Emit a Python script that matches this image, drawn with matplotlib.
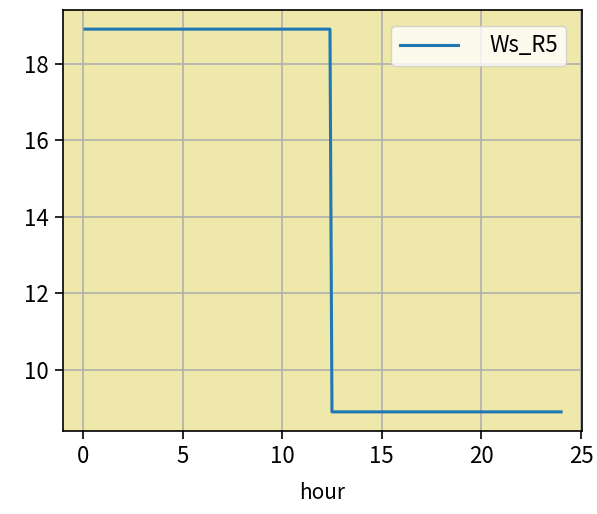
import matplotlib
matplotlib.use("Agg")
import matplotlib.pyplot as plt

plt.rcParams['font.family'] = ['Noto Sans CJK JP', 'DejaVu Sans']

# step profile of Ws_R5 over the day
hour = [0.1, 12.4, 12.5, 24.0]
ws_r5 = [18.9, 18.9, 8.9, 8.9]

fig = plt.figure(figsize=(5.97, 5.14), dpi=100)
ax = fig.add_axes([63 / 597, 1 - 431 / 514, (582 - 63) / 597, (431 - 10) / 514])
ax.set_facecolor('#eee8aa')
ax.plot(hour, ws_r5, color='#1f77b4', lw=2.2, label='Ws_R5')
ax.set_xlim(-1.0, 25.05)
ax.set_xticks([0, 5, 10, 15, 20, 25])
ax.set_yticks([10, 12, 14, 16, 18])
ax.tick_params(labelsize=16, width=1.2, length=6, pad=4)
for s in ax.spines.values():
    s.set_linewidth(1.2)
ax.grid(True, color='#b0b0b0', lw=1.2)
ax.set_xlabel('hour', fontsize=15, labelpad=10)
ax.legend(loc='upper right', fontsize=16, handlelength=2.6, handletextpad=1.4,
          borderaxespad=0.7)

fig.savefig('out.png', dpi=100)
